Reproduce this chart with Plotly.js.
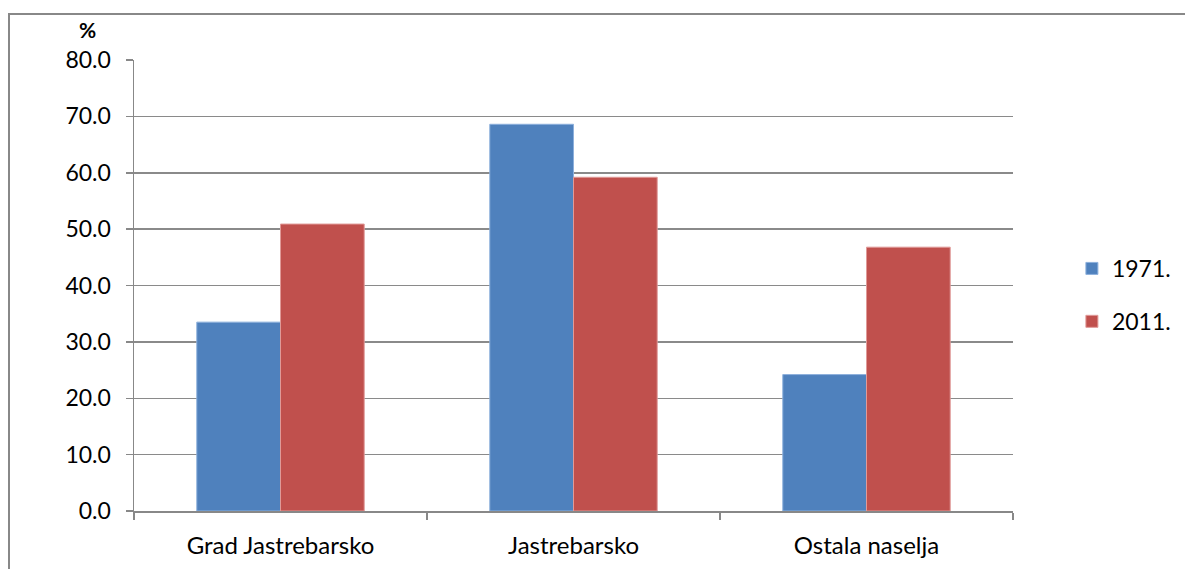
<!DOCTYPE html>
<html><head><meta charset="utf-8">
<script src="https://cdn.plot.ly/plotly-3.0.1.min.js"></script>
<style>
body{margin:0;padding:0;background:#fff;}
#wrap{position:relative;width:1185px;height:569px;overflow:hidden;}
#chart{position:absolute;left:0;top:0;width:1185px;height:569px;}
#frame{position:absolute;left:8px;top:13px;width:1200px;height:600px;border-left:2px solid #888;border-top:2px solid #888;pointer-events:none;box-sizing:border-box;}
</style></head>
<body>
<div id="wrap"><div id="chart"></div><div id="frame"></div></div>
<script>
const categories = ["Grad Jastrebarsko", "Jastrebarsko", "Ostala naselja"];
const series1971 = [33.5, 68.6, 24.2];
const series2011 = [50.9, 59.2, 46.8];
const yTicks = [0, 10, 20, 30, 40, 50, 60, 70, 80];
const yTickLabels = ["0.0", "10.0", "20.0", "30.0", "40.0", "50.0", "60.0", "70.0", "80.0"];

const font = "Lato, 'Open Sans', sans-serif";
const traces = [
  {type:"bar", name:"1971.", legendgroup:"a", x:categories, y:series1971, marker:{color:"#4F81BD", line:{color:"#8db0dc", width:1}}},
  {type:"bar", name:"2011.", legendgroup:"b", x:categories, y:series2011, marker:{color:"#C0504D", line:{color:"#e09a98", width:1}}}
];
const layout = {
  width:1185, height:569,
  margin:{l:134, r:172, t:60, b:58, autoexpand:false},
  paper_bgcolor:"rgba(0,0,0,0)", plot_bgcolor:"#fff",
  barmode:"group", bargap:0.4286, bargroupgap:0,
  font:{family:font, size:23, color:"#000"},
  xaxis:{type:"category", showline:true, linecolor:"#888", linewidth:1.5, ticks:"outside", tickson:"boundaries",
    ticklen:7, tickcolor:"#888", tickwidth:1.5, showgrid:false, ticklabelstandoff:13, tickfont:{size:24}, fixedrange:true, automargin:false},
  yaxis:{range:[0,80], tickvals:yTicks, ticktext:yTickLabels, showline:true, linecolor:"#888", linewidth:1.5,
    ticks:"outside", ticklen:7, tickcolor:"#888", tickwidth:1.5, showgrid:true, gridcolor:"#8a8a8a", gridwidth:1.5,
    zeroline:false, ticklabelstandoff:10, tickfont:{size:23}, fixedrange:true, automargin:false},
  legend:{x:1.067, y:0.479, xanchor:"left", yanchor:"middle", font:{size:23}, traceorder:"grouped", tracegroupgap:20, itemwidth:30, bgcolor:"rgba(0,0,0,0)"},
  annotations:[{text:"<b>%</b>", xref:"paper", yref:"paper", x:-0.053, y:1.068, xanchor:"center", yanchor:"middle", showarrow:false, font:{size:21, color:"#000"}}]
};
Plotly.newPlot("chart", traces, layout, {displayModeBar:false, staticPlot:true});
</script>
</body></html>
